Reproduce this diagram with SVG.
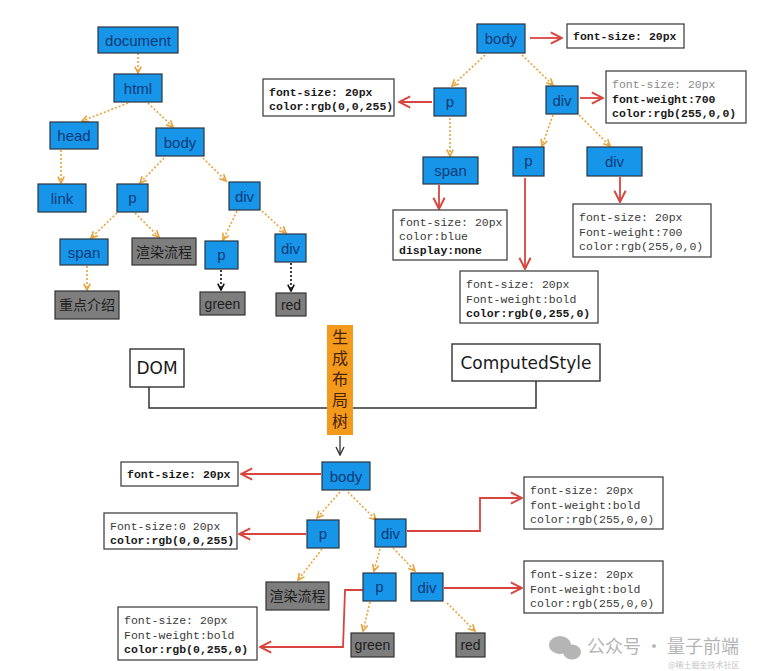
<svg xmlns="http://www.w3.org/2000/svg" width="760" height="671" viewBox="0 0 760 671">
<style>
.bg{fill:#ffffff}
.bn rect{fill:#1796e9;stroke:#2b3440;stroke-width:1.2}
.bn text{fill:#0c3a78;font-family:"Liberation Sans",Arial,sans-serif;font-size:15px;text-anchor:middle;dominant-baseline:central}
.gn rect{fill:#7e7e7e;stroke:#333;stroke-width:1.2}
.gn text{fill:#1e1e1e;font-family:"Liberation Sans","Noto Sans CJK SC",sans-serif;font-size:14px;text-anchor:middle;dominant-baseline:central}
.cb rect{fill:#fff;stroke:#444;stroke-width:1.3}
.cb text{fill:#3a3a3a;font-family:"Liberation Mono","DejaVu Sans Mono",monospace;font-size:11.5px}
.cb .b{font-weight:bold;fill:#1a1a1a}
.cb .l{fill:#8a8a8a}
.hw rect{fill:#fff;stroke:#333;stroke-width:1.4}
.hw text{fill:#1a1a1a;font-family:"DejaVu Sans",sans-serif;font-size:17px;text-anchor:middle;dominant-baseline:central}
.o{stroke:#e8a23a;stroke-width:1.6;stroke-dasharray:2 2;fill:none;marker-end:url(#ao)}
.k{stroke:#111;stroke-width:1.6;stroke-dasharray:2 2;fill:none;marker-end:url(#ak)}
.r{stroke:#d8453e;stroke-width:1.8;fill:none;marker-end:url(#ar)}
.ln{stroke:#333;stroke-width:1.5;fill:none}
</style>
<defs>
<marker id="ao" viewBox="0 0 10 10" refX="9" refY="5" markerWidth="8" markerHeight="8" markerUnits="userSpaceOnUse" orient="auto"><path d="M1,1 L9,5 L1,9" fill="none" stroke="#e8a23a" stroke-width="2"/></marker>
<marker id="ak" viewBox="0 0 10 10" refX="9" refY="5" markerWidth="8" markerHeight="8" markerUnits="userSpaceOnUse" orient="auto"><path d="M1,1 L9,5 L1,9" fill="none" stroke="#111" stroke-width="2"/></marker>
<marker id="ar" viewBox="0 0 10 10" refX="9" refY="5" markerWidth="14" markerHeight="14" markerUnits="userSpaceOnUse" orient="auto"><path d="M1,1 L9,5 L1,9" fill="none" stroke="#d8453e" stroke-width="1.4"/></marker>
<marker id="am" viewBox="0 0 10 10" refX="9" refY="5" markerWidth="10" markerHeight="10" markerUnits="userSpaceOnUse" orient="auto"><path d="M1,1 L9,5 L1,9" fill="none" stroke="#333" stroke-width="1.4"/></marker>
</defs>
<rect class="bg" x="0" y="0" width="760" height="671"/>

<g id="connectors">
<!-- top-left DOM tree -->
<line class="o" x1="138" y1="53" x2="138" y2="73"/>
<line class="o" x1="128" y1="103" x2="82" y2="121"/>
<line class="o" x1="148" y1="103" x2="173" y2="127"/>
<line class="o" x1="61" y1="150" x2="61" y2="183"/>
<line class="o" x1="164" y1="158" x2="140" y2="183"/>
<line class="o" x1="203" y1="158" x2="226" y2="181"/>
<line class="o" x1="117" y1="213" x2="91" y2="238"/>
<line class="o" x1="135" y1="213" x2="159" y2="237"/>
<line class="o" x1="237" y1="211" x2="223" y2="240"/>
<line class="o" x1="262" y1="211" x2="286" y2="233"/>
<line class="o" x1="87" y1="266" x2="87" y2="290"/>
<line class="k" x1="221" y1="270" x2="221" y2="290"/>
<line class="k" x1="291" y1="263" x2="291" y2="291"/>
<!-- top-right style tree -->
<line class="o" x1="485" y1="55" x2="452" y2="86"/>
<line class="o" x1="522" y1="55" x2="553" y2="85"/>
<line class="o" x1="450" y1="118" x2="450" y2="156"/>
<line class="o" x1="553" y1="115" x2="542" y2="146"/>
<line class="o" x1="579" y1="115" x2="610" y2="146"/>
<line class="r" x1="530" y1="38" x2="562" y2="38"/>
<line class="r" x1="432" y1="102" x2="399" y2="102"/>
<line class="r" x1="580" y1="98" x2="603" y2="98"/>
<line class="r" x1="439" y1="185" x2="439" y2="209"/>
<line class="r" x1="525" y1="178" x2="525" y2="269"/>
<line class="r" x1="620" y1="177" x2="620" y2="202"/>
<!-- middle merge -->
<polyline class="ln" points="149,387 149,408 327,408"/>
<polyline class="ln" points="353,408 536,408 536,381"/>
<line class="ln" x1="340" y1="436" x2="340" y2="455" style="marker-end:url(#am);stroke-width:1.3"/>
<!-- bottom layout tree -->
<line class="o" x1="340" y1="492" x2="317" y2="518"/>
<line class="o" x1="348" y1="492" x2="376" y2="520"/>
<line class="o" x1="322" y1="549" x2="298" y2="580"/>
<line class="o" x1="380" y1="549" x2="374" y2="571"/>
<line class="o" x1="393" y1="548" x2="415" y2="571"/>
<line class="o" x1="370" y1="602" x2="363" y2="631"/>
<line class="o" x1="447" y1="603" x2="475" y2="631"/>
<line class="r" x1="321" y1="474" x2="241" y2="474"/>
<line class="r" x1="306" y1="534" x2="239" y2="534"/>
<polyline class="r" points="363,590 345,590 343,647 260,647"/>
<polyline class="r" points="407,531 480,531 480,498 522,498"/>
<line class="r" x1="444" y1="588" x2="522" y2="588"/>
</g>

<!-- top-left DOM tree nodes -->
<g id="n-document" class="bn"><rect x="98" y="27" width="80" height="26"/><text x="138" y="40">document</text></g>
<g id="n-html" class="bn"><rect x="114" y="74" width="48" height="28"/><text x="138" y="88">html</text></g>
<g id="n-head" class="bn"><rect x="50" y="122" width="48" height="27"/><text x="74" y="135.5">head</text></g>
<g id="n-body" class="bn"><rect x="156" y="128" width="48" height="28"/><text x="180" y="142">body</text></g>
<g id="n-link" class="bn"><rect x="38" y="184" width="48" height="28"/><text x="62" y="198">link</text></g>
<g id="n-p" class="bn"><rect x="117" y="184" width="31" height="28"/><text x="132.5" y="197">p</text></g>
<g id="n-div" class="bn"><rect x="229" y="182" width="31" height="28"/><text x="244.5" y="196">div</text></g>
<g id="n-span" class="bn"><rect x="60" y="239" width="48" height="26"/><text x="84" y="252">span</text></g>
<g id="n-render" class="gn"><rect x="132" y="238" width="64" height="27"/><text x="164" y="251.5">渲染流程</text></g>
<g id="n-p2" class="bn"><rect x="205" y="241" width="33" height="28"/><text x="221.5" y="254">p</text></g>
<g id="n-div2" class="bn"><rect x="275" y="234" width="31" height="28"/><text x="290.5" y="248">div</text></g>
<g id="n-intro" class="gn"><rect x="55" y="291" width="64" height="28"/><text x="87" y="305">重点介绍</text></g>
<g id="n-green" class="gn"><rect x="200" y="292" width="45" height="23"/><text x="222.5" y="303.5">green</text></g>
<g id="n-red" class="gn"><rect x="276" y="293" width="30" height="23"/><text x="291" y="304.5">red</text></g>

<!-- top-right style tree nodes -->
<g id="s-body" class="bn"><rect x="477" y="24" width="48" height="29"/><text x="501" y="38.5">body</text></g>
<g id="s-body-style" class="cb"><rect x="567" y="24" width="117" height="24"/><text x="573" y="40" class="b">font-size: 20px</text></g>
<g id="s-p" class="bn"><rect x="434" y="88" width="32" height="28"/><text x="450" y="101">p</text></g>
<g id="s-p-style" class="cb"><rect x="263" y="79" width="131" height="37"/><text x="269" y="95.5" class="b">font-size: 20px</text><text x="269" y="109.5" class="b">color:rgb(0,0,255)</text></g>
<g id="s-div" class="bn"><rect x="546" y="86" width="32" height="28"/><text x="562" y="100">div</text></g>
<g id="s-div-style" class="cb"><rect x="606" y="71" width="140" height="52"/><text x="612" y="88" class="l">font-size: 20px</text><text x="612" y="102.5" class="b">font-weight:700</text><text x="612" y="117" class="b">color:rgb(255,0,0)</text></g>
<g id="s-span" class="bn"><rect x="423" y="157" width="55" height="27"/><text x="450.5" y="170.5">span</text></g>
<g id="s-p2" class="bn"><rect x="513" y="147" width="31" height="29"/><text x="528.5" y="160.5">p</text></g>
<g id="s-div2" class="bn"><rect x="587" y="147" width="55" height="29"/><text x="614.5" y="161.5">div</text></g>
<g id="s-span-style" class="cb"><rect x="393" y="210" width="114" height="50"/><text x="399" y="226">font-size: 20px</text><text x="399" y="240">color:blue</text><text x="399" y="254" class="b">display:none</text></g>
<g id="s-p2-style" class="cb"><rect x="460" y="271" width="138" height="52"/><text x="466" y="288">font-size: 20px</text><text x="466" y="302.5">Font-weight:bold</text><text x="466" y="317" class="b">color:rgb(0,255,0)</text></g>
<g id="s-div2-style" class="cb"><rect x="573" y="204" width="138" height="53"/><text x="579" y="221">font-size: 20px</text><text x="579" y="235.5">Font-weight:700</text><text x="579" y="250">color:rgb(255,0,0)</text></g>

<!-- middle -->
<g id="m-dom" class="hw"><rect x="130" y="349" width="54" height="38"/><text x="157" y="368">DOM</text></g>
<g id="m-computed" class="hw"><rect x="452" y="344" width="148" height="37"/><text x="526" y="362.5">ComputedStyle</text></g>
<g id="m-layout"><rect x="327" y="325" width="26" height="110" fill="#f39a1c"/>
<text x="340" y="329" writing-mode="vertical-rl" font-family="'Noto Sans CJK SC',sans-serif" font-size="16" letter-spacing="5" fill="#4a2200">生成布局树</text></g>

<!-- bottom layout tree -->
<g id="l-body" class="bn"><rect x="322" y="462" width="48" height="28"/><text x="346" y="476">body</text></g>
<g id="l-body-style" class="cb"><rect x="121" y="462" width="117" height="24"/><text x="127" y="478" class="b">font-size: 20px</text></g>
<g id="l-p" class="bn"><rect x="307" y="520" width="32" height="28"/><text x="323" y="533">p</text></g>
<g id="l-p-style" class="cb"><rect x="104" y="513" width="133" height="36"/><text x="110" y="530">Font-size:0 20px</text><text x="110" y="543.5" class="b">color:rgb(0,0,255)</text></g>
<g id="l-div" class="bn"><rect x="375" y="519" width="31" height="28"/><text x="390.5" y="533">div</text></g>
<g id="l-div-style" class="cb"><rect x="524" y="477" width="139" height="52"/><text x="530" y="494">font-size: 20px</text><text x="530" y="508.5">font-weight:bold</text><text x="530" y="523">color:rgb(255,0,0)</text></g>
<g id="l-render" class="gn"><rect x="266" y="582" width="63" height="28"/><text x="297.5" y="596">渲染流程</text></g>
<g id="l-p2" class="bn"><rect x="363" y="573" width="33" height="28"/><text x="379.5" y="586">p</text></g>
<g id="l-div2" class="bn"><rect x="411" y="573" width="32" height="28"/><text x="427" y="587">div</text></g>
<g id="l-div2-style" class="cb"><rect x="524" y="561" width="139" height="52"/><text x="530" y="578">font-size: 20px</text><text x="530" y="592.5">Font-weight:bold</text><text x="530" y="607">color:rgb(255,0,0)</text></g>
<g id="l-green" class="gn"><rect x="351" y="633" width="43" height="24"/><text x="372.5" y="645">green</text></g>
<g id="l-red" class="gn"><rect x="456" y="633" width="29" height="24"/><text x="470.5" y="645">red</text></g>
<g id="l-p2-style" class="cb"><rect x="118" y="607" width="139" height="53"/><text x="124" y="624">font-size: 20px</text><text x="124" y="638.5">Font-weight:bold</text><text x="124" y="653" class="b">color:rgb(0,255,0)</text></g>

<!-- watermark -->
<g id="watermark" fill="#b5b5b5" font-family="'Noto Sans CJK SC',sans-serif">
<ellipse cx="560" cy="645" rx="11" ry="9"/><ellipse cx="572" cy="652" rx="9" ry="7.5"/>
<text x="587" y="653" font-size="18">公众号 · 量子前端</text>
<text x="668" y="668" font-size="8" fill="#c4c4c4">@稀土掘金技术社区</text>
</g>
</svg>
